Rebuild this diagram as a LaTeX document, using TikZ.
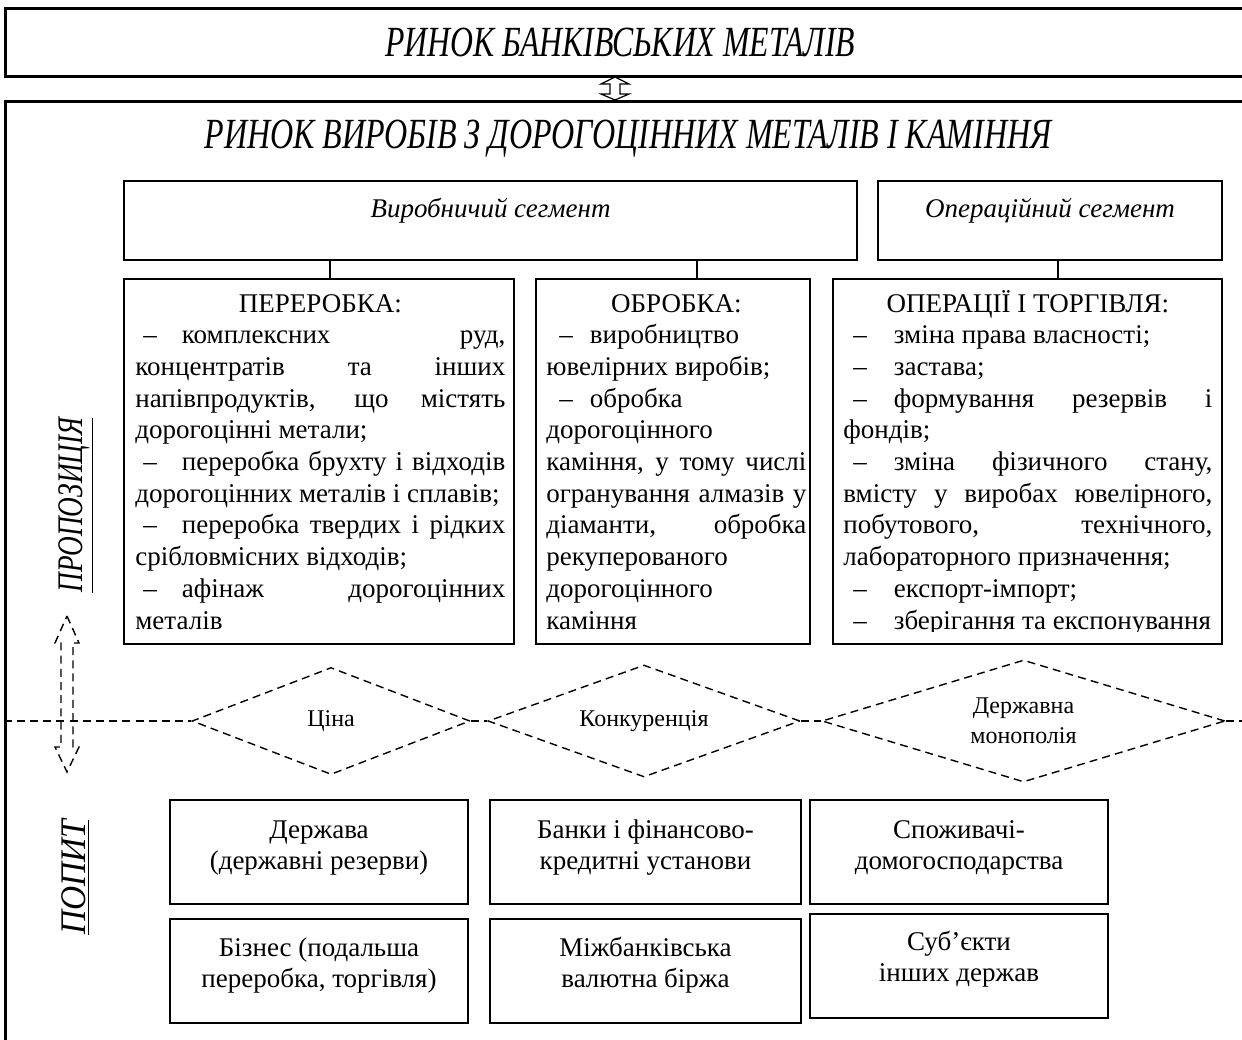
\documentclass[tikz,border=0pt]{standalone}
\usepackage{fontspec}
\setmainfont{Liberation Serif}
\usepackage{graphicx}
\usetikzlibrary{shapes.geometric}
\newcommand{\jl}[1]{\hbox to\hsize{#1}}
\newcommand{\lf}[1]{\hbox to\hsize{#1\hfil}}
\newcommand{\cl}[1]{\hbox to\hsize{\hfil#1\hfil}}
\newcommand{\blk}[3]{\vtop{\hsize=#1\relax\baselineskip=#2\relax\lineskiplimit=-20pt\relax #3}}
\newcommand{\pd}{\kern4pt–\kern12.5pt}
\newcommand{\od}{\kern5pt–\kern13.5pt}
\tikzset{
  outer/.style={draw, line width=1.5pt, rectangle, inner sep=0pt},
  box/.style={draw, line width=0.8pt, rectangle, inner sep=0pt},
  conn/.style={line width=1.4pt},
  dl/.style={line width=0.7pt, dash pattern=on 4pt off 2.6pt},
  dia/.style={diamond, draw, line width=0.7pt, dash pattern=on 4pt off 2.6pt, inner sep=0pt, aspect=2.6, font=\fontsize{12}{15}\selectfont},
  txt/.style={inner sep=0pt, font=\fontsize{13.5}{15.85}\selectfont},
  ttl/.style={inner sep=0pt, font=\fontsize{21.5}{24}\selectfont\itshape},
}
\begin{document}
\begin{tikzpicture}[x=0.5pt,y=-0.5pt]
\useasboundingbox (0,0) rectangle (1242,1039);
% top market
\node[outer, minimum width=628.5pt, minimum height=34pt] (bank) at (633.5,42) {};
\node[ttl, anchor=base] (bankt) at (620,56) {\resizebox{235pt}{\height}{РИНОК БАНКІВСЬКИХ МЕТАЛІВ}};
% big market
\node[outer, minimum width=628.5pt, minimum height=479.5pt] (mkt) at (633.5,580.5) {};
\node[ttl, anchor=base] (mktt) at (628,148) {\resizebox{423.5pt}{\height}{РИНОК ВИРОБІВ З ДОРОГОЦІННИХ МЕТАЛІВ І КАМІННЯ}};
% double arrow between markets
\draw[line width=0.6pt] (615,77) -- (629,84) -- (620,84) -- (620,94) -- (629,94) -- (615,100) -- (601,94) -- (610,94) -- (610,84) -- (601,84) -- cycle;
% segments
\node[box, minimum width=366.5pt, minimum height=39.5pt] (vs) at (490.5,220.5) {};
\node[txt, anchor=base] (vst) at (490.5,217) {\itshape Виробничий сегмент};
\node[box, minimum width=172pt, minimum height=39.5pt] (os) at (1050,220.5) {};
\node[txt, anchor=base] (ost) at (1050,217) {\itshape Операційний сегмент};
% content boxes
\node[box, minimum width=195pt, minimum height=182.5pt] (per) at (319,461.5) {};
\node[box, minimum width=137pt, minimum height=182.5pt] (obr) at (673,461.5) {};
\node[box, minimum width=194.5pt, minimum height=182.5pt] (opr) at (1027.5,461.5) {};
\draw[conn] ([xshift=5.5pt]per.north) -- ([xshift=5.5pt]per.north |- vs.south);
\draw[conn] ([xshift=12pt]obr.north) -- ([xshift=12pt]obr.north |- vs.south);
\draw[conn] ([xshift=15.25pt]opr.north) -- ([xshift=15.25pt]opr.north |- os.south);
\node[txt, anchor=base west] (pertx) at (135,312) {\blk{185pt}{15.85pt}{%
\cl{ПЕРЕРОБКА:}
\jl{\pd комплексних руд,}
\jl{концентратів та інших}
\jl{напівпродуктів, що містять}
\lf{дорогоцінні метали;}
\jl{\pd переробка брухту і відходів}
\lf{дорогоцінних металів і сплавів;}
\jl{\pd переробка твердих і рідких}
\lf{срібловмісних відходів;}
\jl{\pd афінаж дорогоцінних}
\lf{металів}}};
\node[txt, anchor=base west] (obrtx) at (546,312) {\blk{130pt}{15.85pt}{%
\cl{ОБРОБКА:}
\lf{\kern6.5pt–\kern8.5pt виробництво}
\lf{ювелірних виробів;}
\lf{\kern6.5pt–\kern8.5pt обробка}
\lf{дорогоцінного}
\jl{каміння, у тому числі}
\jl{огранування алмазів у}
\jl{діаманти, обробка}
\lf{рекуперованого}
\lf{дорогоцінного}
\lf{каміння}}};
\begin{scope}
\clip (833,279) rectangle (1222,631);
\node[txt, anchor=base west] (oprtx) at (843,312) {\blk{184.5pt}{15.85pt}{%
\cl{ОПЕРАЦІЇ І ТОРГІВЛЯ:}
\lf{\od зміна права власності;}
\lf{\od застава;}
\jl{\od формування резервів і}
\lf{фондів;}
\jl{\od зміна фізичного стану,}
\jl{вмісту у виробах ювелірного,}
\jl{побутового, технічного,}
\lf{лабораторного призначення;}
\lf{\od експорт-імпорт;}
\lf{\od зберігання та експонування}}};
\end{scope}
% diamonds and dashed line
\node[dia, minimum width=139pt, minimum height=53.5pt] (d1) at (331,721) {Ціна};
\node[dia, minimum width=156pt, minimum height=56pt] (d2) at (644,721) {Конкуренція};
\node[dia, minimum width=201.5pt, minimum height=61pt, align=center] (d3) at (1023.5,721) {Державна\\монополія};
\draw[dl] (mkt.west |- d1.west) -- (d1.west);
\draw[dl] (d1.east) -- (d2.west);
\draw[dl] (d2.east) -- (d3.west);
\draw[dl] (d3.east) -- (d3.east -| mkt.east);
% left dashed double arrow
\draw[dl] (67,616) -- (79,643) -- (73,643) -- (73,747) -- (79,747) -- (67,772) -- (55,747) -- (61,747) -- (61,643) -- (55,643) -- cycle;
% side labels
\node[ttl, rotate=90, font=\fontsize{18}{20}\selectfont\itshape] (prop) at (76,505) {\resizebox{87.5pt}{\height}{\underline{ПРОПОЗИЦІЯ}}};
\node[ttl, rotate=90, font=\fontsize{18}{20}\selectfont\itshape] (pop) at (76,877) {\resizebox{57.5pt}{\height}{\underline{ПОПИТ}}};
% demand boxes
\node[box, minimum width=149pt, minimum height=52pt] (b1) at (319,852) {};
\node[box, minimum width=155.5pt, minimum height=52pt] (b2) at (645.5,852) {};
\node[box, minimum width=149pt, minimum height=52pt] (b3) at (959,852) {};
\node[box, minimum width=149pt, minimum height=52pt] (b4) at (319,971) {};
\node[box, minimum width=155.5pt, minimum height=52pt] (b5) at (645.5,971) {};
\node[box, minimum width=149pt, minimum height=52pt] (b6) at (959,966) {};
\node[txt, anchor=base] (b1t) at (319,838) {\blk{149pt}{15.5pt}{\cl{Держава}\cl{(державні резерви)}}};
\node[txt, anchor=base] (b2t) at (645.5,838) {\blk{155pt}{15.5pt}{\cl{Банки і фінансово-}\cl{кредитні установи}}};
\node[txt, anchor=base] (b3t) at (959,838) {\blk{149pt}{15.5pt}{\cl{Споживачі-}\cl{домогосподарства}}};
\node[txt, anchor=base] (b4t) at (319,956) {\blk{149pt}{15.5pt}{\cl{Бізнес (подальша}\cl{переробка, торгівля)}}};
\node[txt, anchor=base] (b5t) at (645.5,956) {\blk{155pt}{15.5pt}{\cl{Міжбанківська}\cl{валютна біржа}}};
\node[txt, anchor=base] (b6t) at (959,950) {\blk{149pt}{15.5pt}{\cl{Суб’єкти}\cl{інших держав}}};
\end{tikzpicture}
\end{document}
